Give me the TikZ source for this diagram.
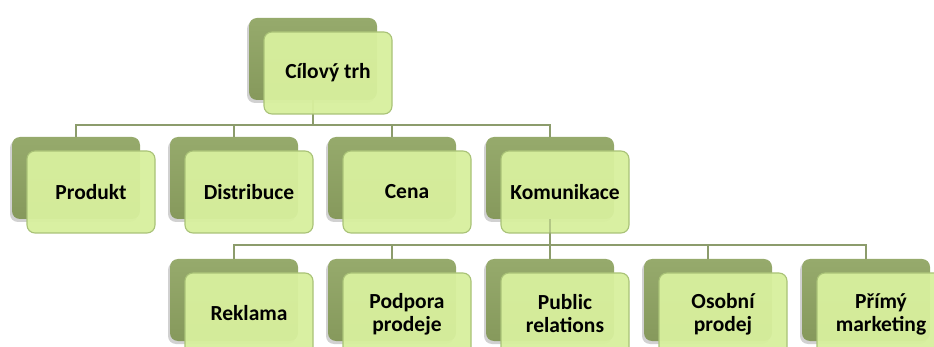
\documentclass[tikz,border=0pt]{standalone}
\usepackage{fontspec}
\setmainfont{Carlito}
\usetikzlibrary{shadows}
\definecolor{backgtop}{HTML}{96AA6C}
\definecolor{backgbot}{HTML}{86995C}
\definecolor{frontg}{HTML}{D8F09E}
\definecolor{frontline}{HTML}{A9C277}
\definecolor{conn}{HTML}{8C9C6C}
\tikzset{
  backbox/.style={rectangle, rounded corners=8pt, minimum width=128pt, minimum height=82pt,
    top color=backgtop, bottom color=backgbot, draw=none,
    general shadow={shadow xshift=-2pt, shadow yshift=-3pt, fill=black, opacity=0.18}},
  frontbox/.style={rectangle, rounded corners=8pt, minimum width=128pt, minimum height=82pt,
    fill=frontg, fill opacity=0.95, draw=frontline, line width=1.1pt, text opacity=1,
    text=black, align=center, font=\fontsize{21.5}{23}\selectfont\bfseries},
  conline/.style={draw=conn, line width=2pt}
}
\begin{document}
\begin{tikzpicture}[x=1pt,y=-1pt]
\useasboundingbox[fill=white] (0,0) rectangle (934,347);
\clip (0,0) rectangle (934,347);
% junction coordinates
\coordinate (h1) at (313,125);
\coordinate (h2) at (550,245);
% back boxes
\node[backbox] (b0) at (313,59) {};
\node[backbox] (b1) at (76,178) {};
\node[backbox] (b2) at (234,178) {};
\node[backbox] (b3) at (392,178) {};
\node[backbox] (b4) at (550,178) {};
\node[backbox] (c1) at (234,300) {};
\node[backbox] (c2) at (392,300) {};
\node[backbox] (c3) at (550,300) {};
\node[backbox] (c4) at (708,300) {};
\node[backbox] (c5) at (866,300) {};
% connectors
\draw[conline] (b0.south) -- (h1);
\draw[conline] (b1.north) |- (h1) -| (b4.north);
\draw[conline] (b2.north) -- (b2.north |- h1);
\draw[conline] (b3.north) -- (b3.north |- h1);
\draw[conline] (b4.south) -- (h2);
\draw[conline] (c1.north) |- (h2) -| (c5.north);
\draw[conline] (c2.north) -- (c2.north |- h2);
\draw[conline] (c3.north) -- (c3.north |- h2);
\draw[conline] (c4.north) -- (c4.north |- h2);
% front boxes
\node[frontbox] (f0) at (328,73) {Cílový trh};
\node[frontbox] (f1) at (91,192) {Produkt};
\node[frontbox] (f2) at (249,192) {Distribuce};
\node[frontbox] (f3) at (407,192) {Cena};
\node[frontbox] (f4) at (565,192) {Komunikace};
\node[frontbox] (g1) at (249,314) {\raisebox{3pt}{Reklama}};
\node[frontbox] (g2) at (407,314) {Podpora\\prodeje};
\node[frontbox] (g3) at (565,314) {Public\\relations};
\node[frontbox] (g4) at (723,314) {Osobní\\prodej};
\node[frontbox] (g5) at (881,314) {Přímý\\marketing};
% connector seen through the translucent Komunikace box
\draw[conline, draw opacity=0.45] (b4.south) -- (h2);
\end{tikzpicture}
\end{document}
